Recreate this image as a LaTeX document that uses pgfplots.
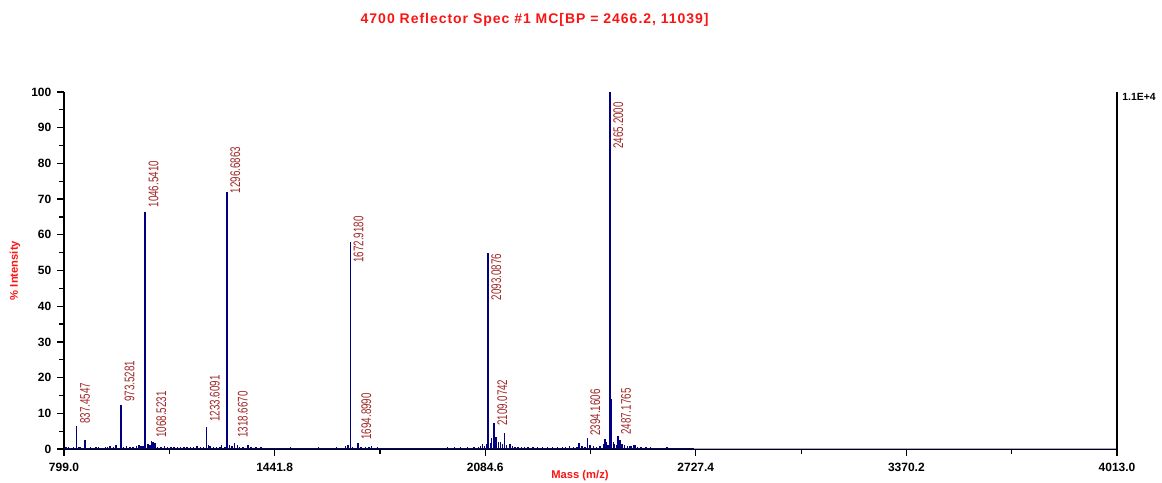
\documentclass[border=0pt]{standalone}
\usepackage{fontspec}
\setmainfont{Liberation Sans}
\usepackage{pgfplots}
\pgfplotsset{compat=1.18}
\definecolor{specblue}{RGB}{0,0,128}
\definecolor{titlered}{RGB}{250,20,20}
\definecolor{peakred}{RGB}{160,40,40}

\begin{document}
\begin{tikzpicture}
\path[use as bounding box] (-32pt,-16.5pt) rectangle (549pt,224.5pt);
\begin{axis}[
    scale only axis,
    width=526.5pt, height=178.5pt,
    at={(0,0)}, anchor=origin,
    xmin=799, xmax=4013, ymin=0, ymax=100,
    axis x line*=bottom, axis y line*=left,
    axis line style={line width=0.8pt, black},
    tick align=outside,
    major tick length=3.3pt, minor tick length=2.4pt,
    tick style={black, line width=0.6pt},
    xtick={799,1441.8,2084.6,2727.4,3370.2,4013},
    xticklabels={799.0,1441.8,2084.6,2727.4,3370.2,4013.0},
    minor xtick={1120.4,1763.2,2406,3048.8,3691.6},
    ytick={0,10,...,100},
    minor ytick={5,15,...,95},
    /pgf/number format/assume math mode=true,
    tick label style={font=\bfseries\fontsize{6}{7}\selectfont},
    yticklabel style={xshift=0.5pt},
    xlabel={Mass (m/z)},
    ylabel={\% Intensity},
    every axis x label/.style={at={(axis description cs:0.49,0)}, yshift=-13.5pt, anchor=center,
        font=\bfseries\fontsize{5.6}{6}\selectfont, text=titlered},
    every axis y label/.style={at={(axis description cs:0,0.5)}, xshift=-24.5pt, rotate=90, anchor=center,
        font=\bfseries\fontsize{5.6}{6}\selectfont, text=titlered},
    title={\addfontfeature{LetterSpace=7}4700 Reflector Spec \#1 MC[BP = 2466.2, 11039]},
    title style={at={(axis description cs:0.447,1)}, yshift=0pt, anchor=center},
    every axis title/.append style={yshift=30pt, font=\bfseries\fontsize{7}{8}\selectfont, text=titlered},
    clip=false,
]

% baseline of the spectrum
\addplot[specblue, line width=0.4pt] coordinates {(799,0.25) (2720,0.25)};
\addplot[specblue!35, line width=0.4pt] coordinates {(2720,0.12) (4013,0.12)};

% spectrum sticks (m/z, % intensity)
\addplot[ycomb, specblue, line width=0.7pt] coordinates {
(805,0.5) (812,0.6) (820,0.4) (828,0.5) (837.45,6.4) (845,0.6) (850,0.5)
(863,2.4) (870,0.4) (880,0.5) (888,0.4) (897,0.5) (905,0.6) (915,0.4)
(925,0.5) (932,0.6) (940,0.8) (950,0.6) (958,1.0) (965,0.4) (973.53,12.3)
(980,0.6) (990,0.8) (1000,0.5) (1010,0.6) (1020,0.9) (1028,1.2) (1034,0.9)
(1040,0.8) (1046.54,66.3) (1055,1.3) (1061,1.2) (1066,2.3) (1071,2.0) (1077,1.7)
(1085,0.7) (1095,0.6) (1105,0.9) (1115,0.6) (1125,0.5) (1135,0.6) (1145,0.5)
(1155,0.5) (1165,0.6) (1175,0.5) (1185,0.5) (1195,0.6) (1205,0.8) (1215,0.5)
(1225,0.6) (1233.61,6.3) (1240,1.2) (1245,0.8) (1255,0.6) (1265,0.7) (1275,0.6)
(1280,1.0) (1290,0.7) (1296.69,72) (1305,1.0) (1312,0.8) (1319.5,1.8) (1328,1.0)
(1335,0.7) (1345,0.6) (1361,1.1) (1370,0.5) (1385,0.5) (1400,0.5) (1415,0.4)
(1430,0.4) (1450,0.4) (1470,0.4) (1490,0.5) (1510,0.4) (1530,0.4) (1550,0.4)
(1575,0.6) (1590,0.4) (1610,0.4) (1630,0.5) (1645,0.4) (1659,0.8) (1666,1.0)
(1672.92,58) (1680,0.5) (1696,1.8) (1705,0.5) (1712,0.4) (1720,0.6) (1730,0.5)
(1738,0.9) (1746,0.4) (1755,0.6) (1770,0.4) (1790,0.4) (1810,0.4) (1830,0.4)
(1850,0.4) (1870,0.4) (1890,0.3) (1910,0.4) (1930,0.4) (1950,0.4) (1970,0.5)
(1990,0.5) (2010,0.5) (2030,0.6) (2050,0.6) (2065,0.7) (2070,0.8) (2077,1.4)
(2082,0.8) (2088,1.5) (2093.09,55) (2100,1.8) (2104,3.0) (2111.6,7.2) (2117,3.5)
(2125,2.0) (2132,2.0) (2138,1.5) (2144,4.4) (2150,1.2) (2160,1.5) (2168,0.8)
(2175,0.7) (2185,0.7) (2195,0.6) (2205,0.6) (2215,0.5) (2230,0.5) (2245,0.6)
(2260,0.5) (2275,0.6) (2290,0.5) (2305,0.6) (2320,0.6) (2330,0.5) (2341,0.8)
(2355,0.7) (2365,0.6) (2371,1.8) (2380,0.8) (2389,0.7) (2396,3.2) (2405,1.0)
(2415,0.8) (2425,0.7) (2435,0.8) (2445,1.5) (2450,2.7) (2455,2.0) (2460,1.0)
(2465.2,100) (2469,14) (2475.6,2.0) (2480,1.5) (2485,1.2) (2490,3.6) (2496,2.5)
(2502,1.5) (2510,1.0) (2518,0.8) (2525,0.9) (2530,0.8) (2537,1.0) (2542,1.0)
(2550,0.6) (2560,0.5) (2575,0.5) (2590,0.5) (2597,0.4) (2610,0.4) (2625,0.4)
(2639,0.5) (2660,0.3) (2690,0.3) (2720,0.3)
};

% peak labels: position of the label foot, label text
\addplot[draw=none, point meta=explicit symbolic,
    nodes near coords={\scalebox{0.7}[1]{\pgfplotspointmeta}},
    every node near coord/.append style={anchor=north west, rotate=90,
        inner xsep=1pt, inner ysep=1.5pt, text=peakred,
        font=\fontsize{7}{8}\selectfont}]
table[meta=label] {
x        y     label
837.45   6.4   837.4547
973.53   12.6  973.5281
1046.54  67    1046.5410
1070.7   2.5   1068.5231
1233.61  7.0   1233.6091
1296.69  71    1296.6863
1319.5   2.5   1318.6670
1672.92  51.5  1672.9180
1696     2.0   1694.8990
2093.09  41    2093.0876
2111.6   5.8   2109.0742
2395     3.1   2394.1606
2465.2   83.5  2465.2000
2489     3.3   2487.1765
};

\draw[line width=0.8pt] (rel axis cs:1,0) -- (rel axis cs:1,1);
\node[anchor=west, font=\bfseries\fontsize{5.2}{6}\selectfont, xshift=1.5pt, yshift=-2.5pt, inner sep=1pt]
    at (rel axis cs:1,1) {1.1E+4};
\end{axis}
\end{tikzpicture}
\end{document}
